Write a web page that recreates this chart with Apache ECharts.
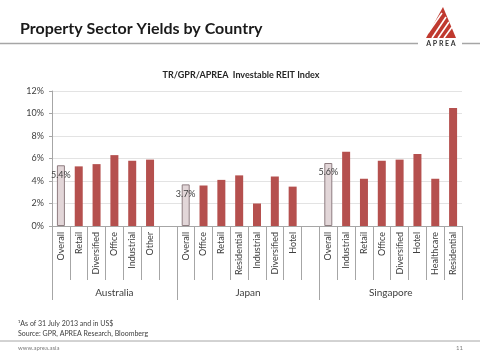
<!DOCTYPE html>
<html><head><meta charset="utf-8">
<script src="https://cdn.jsdelivr.net/npm/echarts@6/dist/echarts.min.js"></script>
<style>html,body{margin:0;padding:0;background:#fff}#c{width:480px;height:360px}</style>
</head><body><div id="c"></div>
<script>
const auCats = ['Overall','Retail','Diversified','Office','Industrial','Other'];
const auVals = [5.4,5.3,5.5,6.3,5.8,5.9];
const jpCats = ['Overall','Office','Retail','Residential','Industrial','Diversified','Hotel'];
const jpVals = [3.7,3.6,4.1,4.5,2.0,4.4,3.5];
const sgCats = ['Overall','Industrial','Retail','Office','Diversified','Hotel','Healthcare','Residential'];
const sgVals = [5.6,6.6,4.2,5.8,5.9,6.4,4.2,10.5];
const groupNames = ['Australia','Japan','Singapore'];
const yTicks = [0,2,4,6,8,10,12];

const groups = [[auCats,auVals],[jpCats,jpVals],[sgCats,sgVals]];
const cats = [], vals = [], groupRanges = [];
groups.forEach((g, gi) => {
  const start = cats.length;
  g[0].forEach((c, i) => { cats.push(cats.length + '|' + c); vals.push(g[1][i]); });
  if (gi < groups.length - 1) { cats.push(cats.length + '|'); vals.push('-'); }
  groupRanges.push([start, cats.length - 1]);
});

const FONT = 'Lato';
const RED = '#b5504e';
const data = vals.map((v, i) => {
  const name = cats[i].split('|')[1];
  if (name === 'Overall') {
    return { value: v, itemStyle: { color: '#e2d6d8', borderColor: '#8e7d80', borderWidth: 1 },
      label: { show: true, position: 'insideTop', distance: 5, formatter: p => p.value + '%', color: '#404040', fontSize: 9, fontFamily: FONT } };
  }
  return v;
});

const staticGraphic = [
  { type: 'text', left: 20, top: 21, style: { text: 'Property Sector Yields by Country', font: 'bold 16px ' + FONT, fill: '#1a1a1a' } },
  { type: 'line', shape: { x1: 0, y1: 43.5, x2: 418, y2: 43.5 }, style: { stroke: '#a6a6a6', lineWidth: 1.5 } },
  { type: 'line', shape: { x1: 462, y1: 43.5, x2: 480, y2: 43.5 }, style: { stroke: '#a6a6a6', lineWidth: 1.5 } },
  { type: 'polygon', shape: { points: [[443,7],[426,38],[456,38]] }, style: { fill: '#c0392f' } },
  { type: 'line', shape: { x1: 428, y1: 33, x2: 442, y2: 13 }, style: { stroke: '#fff', lineWidth: 1.6 } },
  { type: 'line', shape: { x1: 432, y1: 38, x2: 446, y2: 17 }, style: { stroke: '#fff', lineWidth: 1.6 } },
  { type: 'line', shape: { x1: 438, y1: 38, x2: 449, y2: 22 }, style: { stroke: '#fff', lineWidth: 1.6 } },
  { type: 'line', shape: { x1: 444, y1: 38, x2: 452, y2: 27 }, style: { stroke: '#fff', lineWidth: 1.6 } },
  { type: 'text', x: 441, y: 43.5, style: { text: 'A P R E A', font: 'bold 7px ' + FONT, fill: '#333', textAlign: 'center', textVerticalAlign: 'middle' } },
  { type: 'text', left: 18, top: 320, style: { text: '¹As of 31 July 2013 and in US$', font: '7px ' + FONT, fill: '#404040' } },
  { type: 'text', left: 18, top: 330, style: { text: 'Source: GPR, APREA Research, Bloomberg', font: '7px ' + FONT, fill: '#404040' } },
  { type: 'line', shape: { x1: 0, y1: 341, x2: 480, y2: 341 }, style: { stroke: '#a6a6a6', lineWidth: 1 } },
  { type: 'text', left: 18, top: 345, style: { text: 'www.aprea.asia', font: '6px ' + FONT, fill: '#7f7f7f' } },
  { type: 'text', left: 456, top: 345, style: { text: '11', font: '6px ' + FONT, fill: '#7f7f7f' } }
];

const chart = echarts.init(document.getElementById('c'));
chart.setOption({
  animation: false,
  textStyle: { fontFamily: FONT },
  title: { text: 'TR/GPR/APREA  Investable REIT Index', left: 236, textAlign: 'center', top: 66,
    textStyle: { fontSize: 9, fontWeight: 'bold', color: '#262626', fontFamily: FONT } },
  grid: { left: 52, right: 18, top: 91, bottom: 134, containLabel: false },
  xAxis: {
    type: 'category', data: cats,
    axisLine: { lineStyle: { color: '#a6a6a6' } },
    axisTick: { show: true, interval: 0, length: 54, lineStyle: { color: '#a6a6a6' } },
    axisLabel: { interval: 0, rotate: 90, margin: 6, fontSize: 9, color: '#404040', fontFamily: FONT,
      formatter: v => v.split('|')[1] }
  },
  yAxis: {
    type: 'value', min: yTicks[0], max: yTicks[yTicks.length - 1], interval: 2,
    axisLine: { show: true, lineStyle: { color: '#a6a6a6' } },
    axisTick: { show: true, length: 3, lineStyle: { color: '#a6a6a6' } },
    splitLine: { lineStyle: { color: '#e3e3e3' } },
    axisLabel: { formatter: '{value}%', fontSize: 9, color: '#404040', margin: 8, fontFamily: FONT }
  },
  series: [{ type: 'bar', data: data, barWidth: 8, itemStyle: { color: RED } }],
  graphic: staticGraphic
});

const px = i => chart.convertToPixel({ xAxisIndex: 0 }, i);
const slot = px(1) - px(0);
const y0 = chart.convertToPixel({ yAxisIndex: 0 }, 0);
const dyn = [];
const bounds = [];
groupRanges.forEach((r, gi) => {
  const left = px(r[0]) - slot / 2, right = px(r[1]) + slot / 2;
  if (gi === 0) bounds.push(left);
  bounds.push(right);
  dyn.push({ type: 'text', x: (left + right) / 2, y: y0 + 67,
    style: { text: groupNames[gi], font: '10px ' + FONT, fill: '#404040', textAlign: 'center', textVerticalAlign: 'middle' } });
});
bounds.forEach(b => dyn.push({ type: 'line', shape: { x1: Math.round(b) + 0.5, y1: y0, x2: Math.round(b) + 0.5, y2: y0 + 74 }, style: { stroke: '#a6a6a6', lineWidth: 1 } }));
chart.setOption({ graphic: staticGraphic.concat(dyn) });
</script>
</body></html>
